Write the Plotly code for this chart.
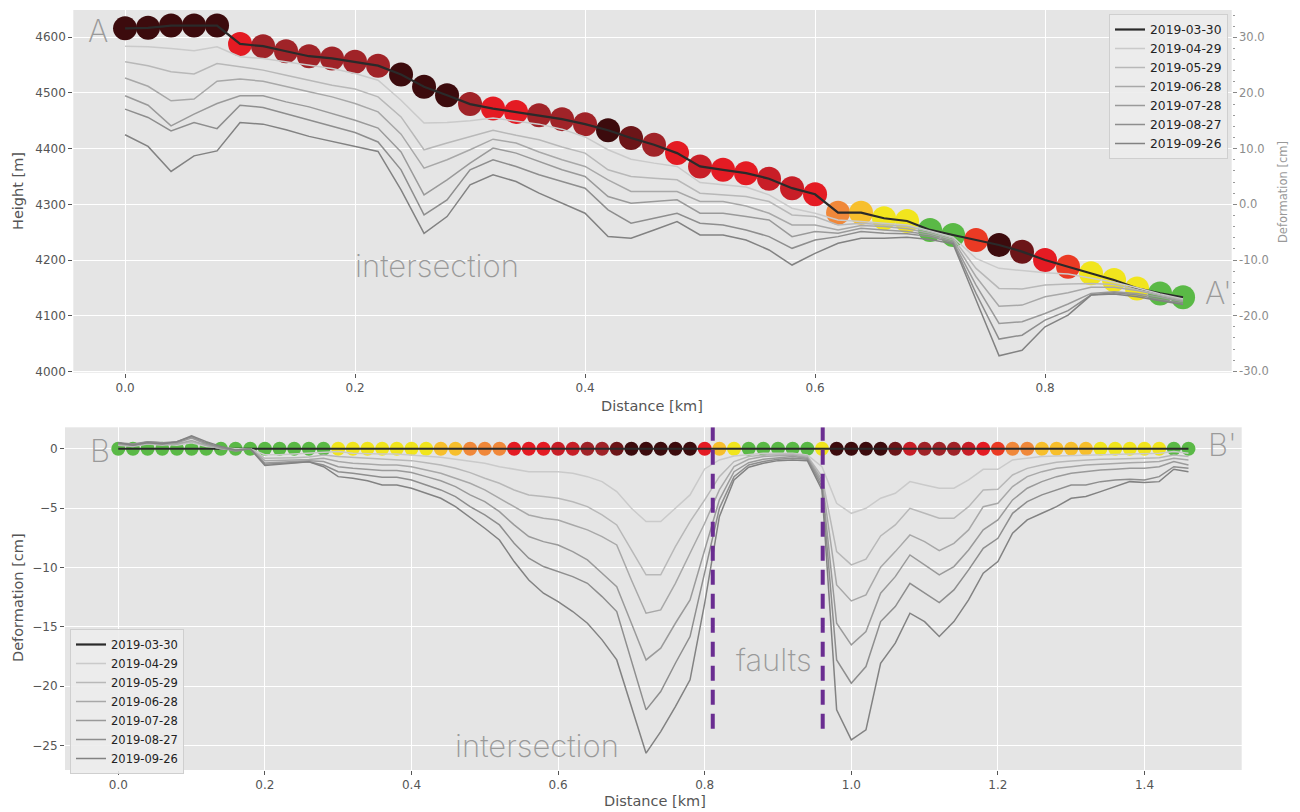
import plotly.graph_objects as go

# ---------------- data: profile A-A' (top) ----------------
dist_a_km = [0.00, 0.02, 0.04, 0.06, 0.08, 0.10, 0.12, 0.14, 0.16, 0.18,
             0.20, 0.22, 0.24, 0.26, 0.28, 0.30, 0.32, 0.34, 0.36, 0.38,
             0.40, 0.42, 0.44, 0.46, 0.48, 0.50, 0.52, 0.54, 0.56, 0.58,
             0.60, 0.62, 0.64, 0.66, 0.68, 0.70, 0.72, 0.74, 0.76, 0.78,
             0.80, 0.82, 0.84, 0.86, 0.88, 0.90, 0.92]

dates = ["2019-03-30", "2019-04-29", "2019-05-29", "2019-06-28",
         "2019-07-28", "2019-08-27", "2019-09-26"]

height_a_0330 = [4616, 4617, 4621, 4621, 4621, 4588, 4584, 4575, 4566, 4562,
                 4556, 4549, 4533, 4511, 4496, 4480, 4472, 4466, 4460, 4453,
                 4444, 4433, 4419, 4407, 4392, 4368, 4362, 4356, 4346, 4329,
                 4318, 4285, 4285, 4275, 4270, 4254, 4245, 4236, 4227, 4215,
                 4200, 4188, 4176, 4164, 4149, 4140, 4133]
height_a_0429 = [4584, 4583, 4580, 4576, 4583, 4565, 4562, 4556, 4550, 4544,
                 4535, 4523, 4487, 4446, 4447, 4450, 4455, 4450, 4444, 4435,
                 4421, 4398, 4381, 4374, 4368, 4339, 4335, 4331, 4317, 4293,
                 4284, 4272, 4269, 4266, 4263, 4252, 4241, 4203, 4185, 4181,
                 4177, 4175, 4168, 4160, 4150, 4139, 4130]
height_a_0529 = [4556, 4549, 4538, 4534, 4553, 4547, 4541, 4532, 4523, 4514,
                 4507, 4493, 4457, 4398, 4410, 4421, 4433, 4424, 4416, 4403,
                 4392, 4362, 4350, 4347, 4344, 4320, 4317, 4314, 4305, 4281,
                 4278, 4263, 4266, 4263, 4260, 4251, 4239, 4185, 4149, 4148,
                 4155, 4157, 4158, 4156, 4147, 4137, 4128]
height_a_0628 = [4527, 4512, 4486, 4489, 4521, 4525, 4521, 4511, 4502, 4493,
                 4481, 4466, 4426, 4365, 4380, 4398, 4417, 4410, 4394, 4380,
                 4368, 4344, 4323, 4323, 4323, 4305, 4305, 4297, 4284, 4263,
                 4263, 4254, 4262, 4260, 4256, 4248, 4236, 4170, 4117, 4119,
                 4134, 4141, 4151, 4151, 4145, 4136, 4127]
height_a_0728 = [4495, 4478, 4441, 4462, 4481, 4495, 4495, 4484, 4475, 4463,
                 4451, 4437, 4394, 4317, 4344, 4374, 4401, 4392, 4377, 4362,
                 4350, 4314, 4302, 4305, 4308, 4284, 4284, 4278, 4272, 4242,
                 4251, 4248, 4257, 4254, 4251, 4245, 4233, 4155, 4086, 4089,
                 4104, 4121, 4140, 4143, 4140, 4133, 4125]
height_a_0827 = [4471, 4456, 4432, 4447, 4436, 4478, 4474, 4463, 4451, 4441,
                 4429, 4412, 4362, 4281, 4308, 4362, 4380, 4368, 4353, 4341,
                 4329, 4290, 4266, 4275, 4284, 4266, 4263, 4254, 4242, 4221,
                 4236, 4242, 4251, 4248, 4247, 4242, 4231, 4140, 4058, 4065,
                 4092, 4109, 4137, 4141, 4137, 4129, 4122]
height_a_0926 = [4425, 4404, 4359, 4387, 4396, 4447, 4444, 4434, 4422, 4413,
                 4404, 4395, 4326, 4248, 4278, 4335, 4353, 4341, 4320, 4302,
                 4284, 4242, 4239, 4254, 4269, 4245, 4245, 4236, 4218, 4191,
                 4212, 4230, 4239, 4239, 4241, 4237, 4229, 4128, 4028, 4038,
                 4080, 4101, 4137, 4139, 4134, 4127, 4120]

class_a = ["DK", "DK", "DK", "DK", "DK", "RD", "BR", "BR", "BR", "BR",
           "BR", "BR", "DK", "DK", "DK", "BR", "RD", "RD", "BR", "BR",
           "BR", "DK", "DR", "BR", "RD", "CR", "RD", "RD", "CR", "CR",
           "RD", "OR", "YO", "YE", "YE", "GR", "GR", "RO", "DK", "DR",
           "RD", "RO", "YE", "YE", "YE", "GR", "GR"]

height_ticks_m = [4000, 4100, 4200, 4300, 4400, 4500, 4600]
deform_a_ticks_cm = [-30, -20, -10, 0, 10, 20, 30]
deform_a_ticktext = ["-30.0", "-20.0", "-10.0", "0.0", "10.0", "20.0", "30.0"]

# ---------------- data: profile B-B' (bottom) ----------------
dist_b_km = [0.00, 0.02, 0.04, 0.06, 0.08, 0.10, 0.12, 0.14, 0.16, 0.18,
             0.20, 0.22, 0.24, 0.26, 0.28, 0.30, 0.32, 0.34, 0.36, 0.38,
             0.40, 0.42, 0.44, 0.46, 0.48, 0.50, 0.52, 0.54, 0.56, 0.58,
             0.60, 0.62, 0.64, 0.66, 0.68, 0.70, 0.72, 0.74, 0.76, 0.78,
             0.80, 0.82, 0.84, 0.86, 0.88, 0.90, 0.92, 0.94, 0.96, 0.98,
             1.00, 1.02, 1.04, 1.06, 1.08, 1.10, 1.12, 1.14, 1.16, 1.18,
             1.20, 1.22, 1.24, 1.26, 1.28, 1.30, 1.32, 1.34, 1.36, 1.38,
             1.40, 1.42, 1.44, 1.46]

deform_b_0330 = [0.0, 0.0, 0.0, 0.0, 0.0, 0.0, 0.0, 0.0, 0.0, 0.0,
                 0.0, 0.0, 0.0, 0.0, 0.0, 0.0, 0.0, 0.0, 0.0, 0.0,
                 0.0, 0.0, 0.0, 0.0, 0.0, 0.0, 0.0, 0.0, 0.0, 0.0,
                 0.0, 0.0, 0.0, 0.0, 0.0, 0.0, 0.0, 0.0, 0.0, 0.0,
                 0.0, 0.0, 0.0, 0.0, 0.0, 0.0, 0.0, 0.0, 0.0, 0.0,
                 0.0, 0.0, 0.0, 0.0, 0.0, 0.0, 0.0, 0.0, 0.0, 0.0,
                 0.0, 0.0, 0.0, 0.0, 0.0, 0.0, 0.0, 0.0, 0.0, 0.0,
                 0.0, 0.0, 0.0, 0.0]
deform_b_0429 = [0.3, 0.3, 0.4, 0.4, 0.3, 0.5, 0.2, 0.1, 0.0, 0.0,
                 -0.5, -0.5, -0.45, -0.4, -0.3, -0.24, -0.38, -0.44, -0.44, -0.44,
                 -0.52, -0.61, -0.72, -0.89, -1.08, -1.22, -1.51, -1.73, -1.93, -1.93,
                 -1.93, -2.07, -2.35, -2.77, -3.61, -5.02, -6.14, -6.14, -5.02, -3.89,
                 -1.7, -0.94, -0.61, -0.47, -0.38, -0.38, -0.38, -0.52, -1.51, -4.60,
                 -5.44, -5.02, -4.17, -3.75, -2.77, -3.05, -3.33, -3.33, -2.63, -1.73,
                 -1.73, -0.94, -0.80, -0.66, -0.61, -0.58, -0.55, -0.52, -0.49, -0.47,
                 -0.44, -0.38, -0.24, -0.38]
deform_b_0529 = [0.3, 0.2, 0.4, 0.3, 0.4, 0.6, 0.3, 0.0, -0.1, 0.0,
                 -0.8, -0.8, -0.75, -0.7, -0.52, -0.66, -0.72, -0.80, -0.89, -0.89,
                 -1.00, -1.17, -1.37, -1.65, -2.01, -2.49, -2.91, -3.47, -3.89, -4.03,
                 -4.17, -4.46, -4.88, -5.58, -6.42, -8.53, -10.63, -10.63, -8.25, -6.14,
                 -4.31, -2.35, -1.08, -0.66, -0.52, -0.47, -0.44, -0.61, -2.35, -8.67,
                 -9.79, -9.31, -7.35, -6.42, -5.02, -5.44, -5.86, -5.86, -4.88, -3.47,
                 -3.42, -2.21, -1.65, -1.37, -1.14, -1.03, -0.94, -0.89, -0.86, -0.80,
                 -0.80, -0.75, -0.52, -0.66]
deform_b_0628 = [0.4, 0.3, 0.5, 0.4, 0.4, 0.7, 0.3, 0.0, -0.1, 0.0,
                 -1.0, -1.0, -0.95, -0.9, -0.80, -1.08, -1.22, -1.28, -1.37, -1.37,
                 -1.51, -1.79, -2.07, -2.49, -2.91, -3.47, -4.17, -4.88, -5.58, -5.86,
                 -6.00, -6.42, -6.84, -7.40, -8.11, -11.06, -13.86, -13.58, -11.34, -8.81,
                 -6.28, -3.47, -1.51, -0.89, -0.66, -0.58, -0.55, -0.72, -2.63, -11.48,
                 -12.83, -12.32, -9.99, -8.67, -7.26, -7.83, -8.58, -7.97, -6.84, -4.88,
                 -4.60, -3.19, -2.35, -1.93, -1.65, -1.51, -1.37, -1.31, -1.22, -1.17,
                 -1.14, -1.08, -0.80, -0.94]
deform_b_0728 = [0.4, 0.3, 0.6, 0.5, 0.5, 0.9, 0.4, 0.1, -0.1, 0.0,
                 -1.2, -1.15, -1.1, -1.0, -1.08, -1.51, -1.65, -1.73, -1.84, -1.84,
                 -2.01, -2.35, -2.69, -3.19, -3.89, -4.46, -5.30, -6.42, -7.40, -7.83,
                 -8.11, -8.67, -9.37, -10.49, -11.62, -14.71, -17.80, -16.81, -14.71, -12.74,
                 -8.53, -4.31, -1.93, -1.17, -0.89, -0.75, -0.66, -0.80, -2.91, -14.71,
                 -16.53, -15.41, -12.18, -10.78, -8.95, -9.79, -10.63, -9.93, -8.53, -6.84,
                 -6.00, -4.31, -3.33, -2.77, -2.35, -2.07, -1.93, -1.79, -1.73, -1.65,
                 -1.65, -1.51, -1.08, -1.37]
deform_b_0827 = [0.5, 0.4, 0.6, 0.5, 0.6, 1.0, 0.5, 0.1, -0.2, 0.0,
                 -1.3, -1.25, -1.2, -1.1, -1.37, -1.93, -2.07, -2.21, -2.40, -2.40,
                 -2.63, -3.05, -3.47, -4.03, -4.88, -5.58, -6.42, -7.97, -9.23, -9.93,
                 -10.35, -10.78, -11.34, -12.46, -13.72, -17.80, -22.01, -20.47, -18.08, -15.83,
                 -10.49, -5.02, -2.35, -1.37, -1.08, -0.89, -0.80, -0.89, -3.19, -17.80,
                 -19.76, -18.36, -14.57, -13.30, -11.34, -12.18, -12.97, -11.90, -10.21, -8.39,
                 -7.55, -5.44, -4.46, -3.89, -3.47, -3.05, -3.05, -2.77, -2.63, -2.57,
                 -2.63, -2.35, -1.51, -1.65]
deform_b_0926 = [0.5, 0.3, 0.5, 0.4, 0.6, 1.1, 0.6, 0.2, -0.1, 0.0,
                 -1.4, -1.3, -1.2, -1.1, -1.51, -2.35, -2.49, -2.69, -3.05, -3.05,
                 -3.33, -3.75, -4.17, -4.88, -5.78, -6.70, -7.69, -9.51, -11.06, -12.18,
                 -12.88, -13.72, -14.71, -16.11, -17.80, -21.73, -25.66, -23.84, -21.73, -19.48,
                 -13.02, -5.72, -2.63, -1.56, -1.22, -1.00, -0.94, -1.00, -3.47, -22.01,
                 -24.54, -23.70, -18.08, -16.39, -13.86, -14.57, -15.83, -14.57, -12.74, -10.49,
                 -9.51, -7.12, -6.00, -5.44, -4.88, -4.17, -4.03, -3.61, -3.19, -2.77,
                 -2.85, -2.77, -1.73, -1.93]

class_b = ["GR", "GR", "GR", "GR", "GR", "GR", "GR", "GR", "GR", "GR",
           "GR", "GR", "GR", "GR", "GR", "YE", "YE", "YE", "YE", "YE",
           "YE", "YE", "YO", "YO", "OR", "OR", "OR", "RD", "RD", "RD",
           "CR", "CR", "BR", "BR", "DR", "DK", "DK", "DK", "DK", "DK",
           "RD", "YO", "YE", "GR", "GR", "GR", "GR", "GR", "YE", "DK",
           "DK", "DK", "DK", "DR", "CR", "BR", "BR", "BR", "CR", "RD",
           "RO", "OR", "OR", "YO", "YO", "YO", "YO", "YE", "YE", "YE",
           "YE", "YE", "GR", "GR"]

fault_km = [0.811, 0.961]
fault_span_cm = [-23.6, 1.81]

deform_b_ticks_cm = [-25, -20, -15, -10, -5, 0]

# ---------------- styles ----------------
CLASS_COLOR = {"DK": "#3c0b0d", "DR": "#6c1518", "BR": "#a02328", "CR": "#c81e27",
               "RD": "#e41b23", "RO": "#ea3a24", "OR": "#f0883a", "YO": "#f7bf2c",
               "YE": "#f1e51d", "GR": "#5ab946"}
LINE_COLORS = ["#2a2a2a", "#cacaca", "#b8b8b8", "#a8a8a8", "#9a9a9a", "#8e8e8e", "#828282"]
LINE_WIDTHS = [2.2, 1.5, 1.5, 1.5, 1.5, 1.5, 1.5]

# the page body has an 8 px margin: the figure is placed at (8, 8)
OFF = 8
W, H = 1300 - OFF, 812 - OFF
TICK_FONT = dict(family="DejaVu Sans", size=12, color="#555555")
LABEL_FONT = dict(family="DejaVu Sans", size=14.5, color="#555555")
THIN_FONT = dict(family="Inter", size=31, color="#9a9a9a", weight=200)


def px(x):
    return (x - OFF) / W


def py(y):
    return 1 - (y - OFF) / H


series_a = [height_a_0330, height_a_0429, height_a_0529, height_a_0628,
            height_a_0728, height_a_0827, height_a_0926]
series_b = [deform_b_0330, deform_b_0429, deform_b_0529, deform_b_0628,
            deform_b_0728, deform_b_0827, deform_b_0926]

fig = go.Figure()

# top: coloured points along the profile
fig.add_trace(go.Scatter(
    x=dist_a_km, y=height_a_0330, mode="markers", xaxis="x", yaxis="y",
    marker=dict(size=24, color=[CLASS_COLOR[c] for c in class_a], line=dict(width=0)),
    showlegend=False, hoverinfo="skip"))
for k, (d, ys) in enumerate(zip(dates, series_a)):
    fig.add_trace(go.Scatter(
        x=dist_a_km, y=ys, mode="lines", name=d, xaxis="x", yaxis="y",
        line=dict(color=LINE_COLORS[k], width=LINE_WIDTHS[k]), legend="legend"))
# dummy trace to activate the secondary (deformation) axis
fig.add_trace(go.Scatter(x=[None], y=[None], xaxis="x", yaxis="y3",
                         showlegend=False, hoverinfo="skip"))

# bottom
fig.add_trace(go.Scatter(
    x=dist_b_km, y=deform_b_0330, mode="markers", xaxis="x2", yaxis="y2",
    marker=dict(size=14, color=[CLASS_COLOR[c] for c in class_b], line=dict(width=0)),
    showlegend=False, hoverinfo="skip"))
for k, (d, ys) in enumerate(zip(dates, series_b)):
    fig.add_trace(go.Scatter(
        x=dist_b_km, y=ys, mode="lines", name=d, xaxis="x2", yaxis="y2",
        line=dict(color=LINE_COLORS[k], width=LINE_WIDTHS[k]), legend="legend2"))
for fx in fault_km:
    fig.add_trace(go.Scatter(
        x=[fx, fx], y=fault_span_cm, mode="lines", xaxis="x2", yaxis="y2",
        line=dict(color="#6a2d91", width=4, dash="15px,9px"),
        showlegend=False, hoverinfo="skip"))

axis_common = dict(showgrid=True, gridcolor="white", gridwidth=1.3, zeroline=False,
                   ticks="outside", ticklen=4, tickcolor="#555555", tickwidth=1,
                   tickfont=TICK_FONT, showline=False, automargin=False)

h_lo, h_hi = 3997.6, 4649.0
fig.update_layout(
    width=W, height=H,
    margin=dict(l=0, r=0, t=0, b=0),
    paper_bgcolor="white", plot_bgcolor="#e5e5e5",
    xaxis=dict(domain=[px(73.3), px(1231.7)], anchor="y", range=[-0.045, 0.9623],
               tick0=0, dtick=0.2, tickformat=".1f", **axis_common),
    yaxis=dict(domain=[py(372.7), py(10)], anchor="x", range=[h_lo, h_hi],
               tickvals=height_ticks_m, **axis_common),
    yaxis3=dict(overlaying="y", anchor="x", side="right",
                range=[(h_lo - 4300) / 10, (h_hi - 4300) / 10],
                tickvals=deform_a_ticks_cm, ticktext=deform_a_ticktext,
                showgrid=False, zeroline=False, ticks="outside", ticklen=4,
                tickcolor="#888888", tickfont=dict(family="DejaVu Sans", size=11.5, color="#8c8c8c"),
                minor=dict(dtick=2, tick0=0, ticks="outside", ticklen=2, tickcolor="#999999",
                           showgrid=False),
                automargin=False),
    xaxis2=dict(domain=[px(65), px(1241.7)], anchor="y2", range=[-0.0727, 1.5326],
                tick0=0, dtick=0.2, tickformat=".1f", **axis_common),
    yaxis2=dict(domain=[py(770), py(427.3)], anchor="x2", range=[-27.08, 1.81],
                tickvals=deform_b_ticks_cm, **axis_common),
    legend=dict(x=px(1228), y=py(14), xanchor="right", yanchor="top",
                bgcolor="rgba(236,236,236,0.9)", bordercolor="#cfcfcf", borderwidth=1,
                font=dict(family="DejaVu Sans", size=12.3, color="#222222"),
                itemwidth=30, tracegroupgap=0),
    legend2=dict(x=px(70), y=py(629), xanchor="left", yanchor="top",
                 bgcolor="rgba(236,236,236,0.9)", bordercolor="#cfcfcf", borderwidth=1,
                 font=dict(family="DejaVu Sans", size=11.5, color="#222222"),
                 itemwidth=30, tracegroupgap=0),
    showlegend=True,
)

annos = [
    dict(text="Height [m]", x=px(18), y=py(191), textangle=-90, font=LABEL_FONT),
    dict(text="Distance [km]", x=px(652), y=py(406), font=LABEL_FONT),
    dict(text="Deformation [cm]", x=px(1283), y=py(192), textangle=-90,
         font=dict(family="DejaVu Sans", size=11.5, color="#999999")),
    dict(text="Deformation [cm]", x=px(18), y=py(598), textangle=-90, font=LABEL_FONT),
    dict(text="Distance [km]", x=px(655), y=py(801), font=LABEL_FONT),
    dict(text="A", x=px(98), y=py(31), font=THIN_FONT),
    dict(text="A'", x=px(1218), y=py(292), font=THIN_FONT),
    dict(text="intersection", x=px(437), y=py(265), font=THIN_FONT),
    dict(text="B", x=px(100), y=py(450), font=THIN_FONT),
    dict(text="B'", x=px(1222), y=py(444), font=THIN_FONT),
    dict(text="faults", x=px(774), y=py(659), font=THIN_FONT),
    dict(text="intersection", x=px(537), y=py(745), font=THIN_FONT),
]
for a in annos:
    fig.add_annotation(xref="paper", yref="paper", showarrow=False,
                       xanchor="center", yanchor="middle", **a)

fig.write_html("out.html")
